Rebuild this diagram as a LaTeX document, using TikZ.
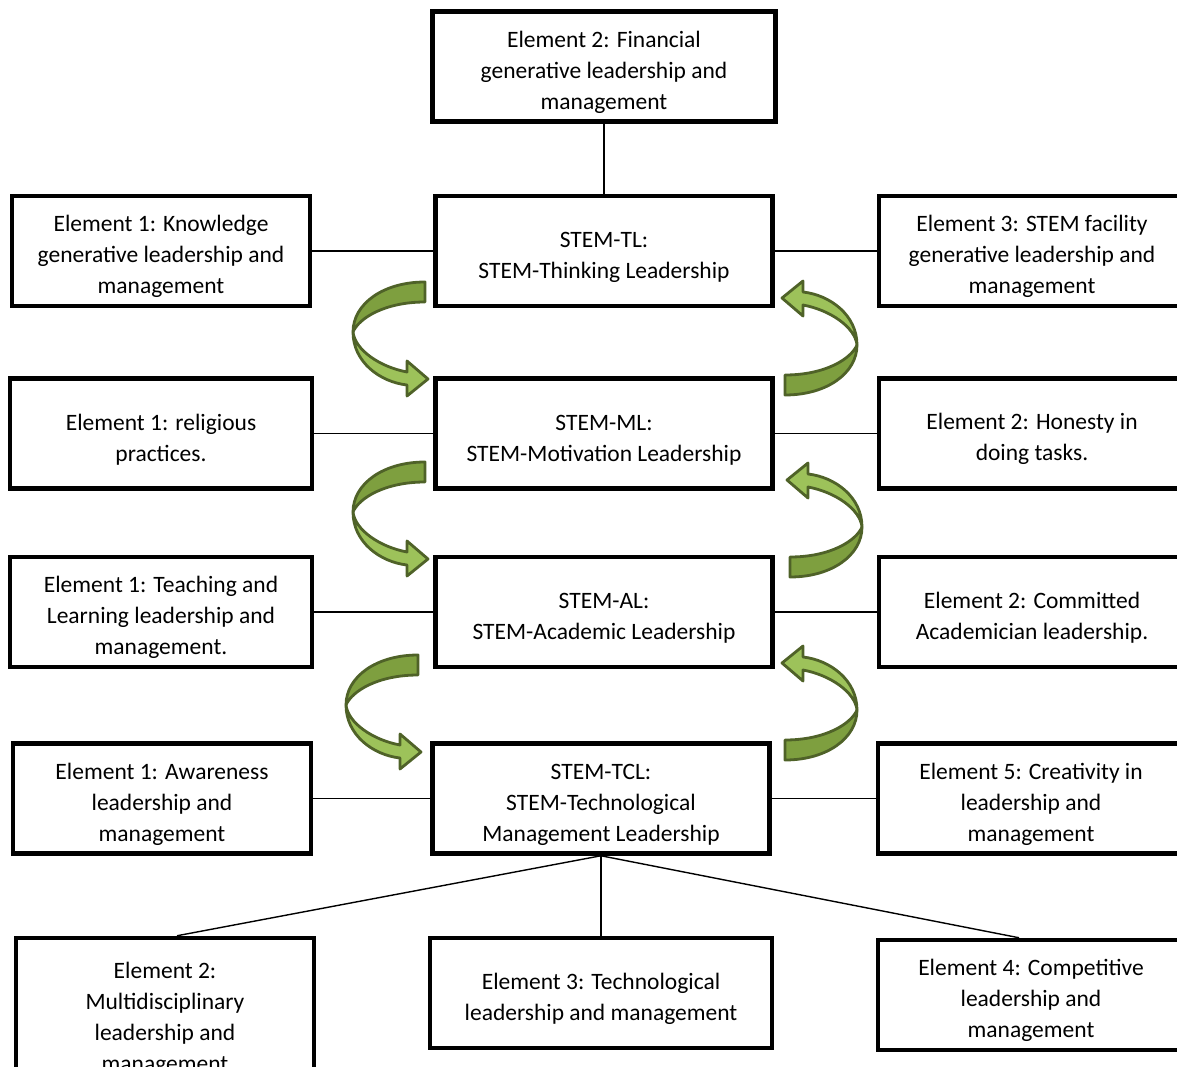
\documentclass[tikz,border=0pt]{standalone}
\usepackage{fontspec}
\setmainfont{Carlito}
\usetikzlibrary{positioning}
\definecolor{arrowline}{HTML}{4F6228}
\definecolor{arrowdark}{HTML}{7E9F3F}
\definecolor{arrowlight}{HTML}{9DC25A}
\newcommand{\lineup}{\rule{0pt}{28pt}}
\tikzset{
stembox/.style={draw,line width=4.5pt,minimum width=337pt,minimum height=110pt,align=center,font=\fontsize{23.5}{31}\selectfont},
elembox/.style={stembox,minimum width=298pt},
link/.style={line width=1.4pt},
twistarrow/.pic={
\filldraw[fill=arrowdark,draw=arrowline,line width=2.8pt,line join=round]
(0,0) .. controls (-42,0) and (-72,22) .. (-72,50)
.. controls (-66,36) and (-40,20) .. (0,20) -- cycle;
\filldraw[fill=arrowlight,draw=arrowline,line width=2.8pt,line join=round]
(-72,50) .. controls (-72,80) and (-45,100) .. (-18,103)
-- (-18,114) -- (3,97) -- (-18,79) -- (-18,90)
.. controls (-45,85) and (-70,68) .. (-72,50) -- cycle;
}
}
\begin{document}
\begin{tikzpicture}[x=1pt,y=-1pt,node distance=70pt and 120pt]
\useasboundingbox (0,0) rectangle (1177,1067);
\clip (0,0) rectangle (1177,1067);
\node[stembox](tl) at (604,251){\lineup STEM-TL:\\STEM-Thinking Leadership};
\node[stembox,minimum width=343pt,above=70pt of tl](fin){\lineup Element 2: Financial\\generative leadership and\\management};
\node[elembox,left=121pt of tl](know){\lineup Element 1: Knowledge\\generative leadership and\\management};
\node[elembox,minimum width=306pt,right=102pt of tl](facil){\lineup Element 3: STEM facility\\generative leadership and\\management};
\node[stembox,below=68pt of tl](ml){\lineup STEM-ML:\\STEM-Motivation Leadership};
\node[elembox,minimum width=302pt,left=119pt of ml](relig){\lineup Element 1: religious\\practices.};
\node[elembox,minimum width=306pt,right=102pt of ml](honest){\lineup Element 2: Honesty in\\doing tasks.};
\node[stembox,below=64pt of ml](al){\lineup STEM-AL:\\STEM-Academic Leadership};
\node[elembox,minimum width=302pt,left=119pt of al](teach){\lineup Element 1: Teaching and\\Learning leadership and\\management.};
\node[elembox,minimum width=306pt,right=102pt of al](commit){\lineup Element 2: Committed\\Academician leadership.};
\node[stembox,below=72pt of al,xshift=-3pt](tcl){\lineup STEM-TCL:\\STEM-Technological\\Management Leadership};
\node[elembox,left=117pt of tcl](aware){\lineup Element 1: Awareness\\leadership and\\management};
\node[elembox,minimum width=306pt,right=104pt of tcl](creat){\lineup Element 5: Creativity in\\leadership and\\management};
\node[elembox,inner ysep=12pt,below=80pt of aware,xshift=3pt](multi){\lineup Element 2:\\Multidisciplinary\\leadership and\\management};
\node[stembox,minimum width=342pt,below=80pt of tcl](techn){\lineup Element 3: Technological\\leadership and management};
\node[elembox,minimum width=306pt,below=82pt of creat](compet){\lineup Element 4: Competitive\\leadership and\\management};
\draw[link](fin)--(tl);
\draw[link](know)--(tl);
\draw[link](tl)--(facil);
\draw[link](relig)--(ml);
\draw[link](ml)--(honest);
\draw[link](teach)--(al);
\draw[link](al)--(commit);
\draw[link](aware)--(tcl);
\draw[link](tcl)--(creat);
\draw[link](tcl.south)--([xshift=12pt]multi.north);
\draw[link](tcl.south)--(techn.north);
\draw[link](tcl.south)--([xshift=-12pt]compet.north);
\pic at (425,282){twistarrow};
\pic at (425,462){twistarrow};
\pic at (418,655){twistarrow};
\pic[rotate=180] at (785,395){twistarrow};
\pic[rotate=180] at (790,577){twistarrow};
\pic[rotate=180] at (785,760){twistarrow};
\end{tikzpicture}
\end{document}
